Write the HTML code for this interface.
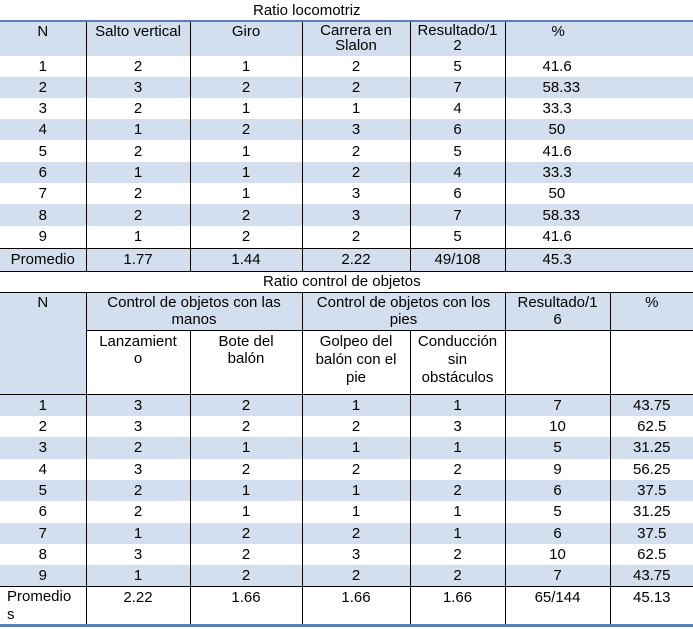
<!DOCTYPE html>
<html><head><meta charset="utf-8"><style>
body{margin:0;width:693px;height:629px;overflow:hidden;background:#fff;font-family:"Liberation Sans",Arial,sans-serif;font-size:15px;color:#000}
table{border-collapse:collapse;table-layout:fixed;position:absolute;left:0}
td{padding:0 3px;text-align:center;vertical-align:middle;line-height:17px;overflow:hidden}
.b{background:#d3dfee}
.vr{border-right:1px solid #000}
.t{vertical-align:top;padding-top:1px}
.title{position:absolute;font-size:15px;white-space:nowrap}
</style></head><body>
<div class="title" style="top:2px;left:253px">Ratio locomotriz</div>
<table style="top:20px;width:693px;border-top:2px solid #5b7fb5">
<colgroup><col style="width:86px"><col style="width:104px"><col style="width:112px"><col style="width:108px"><col style="width:95px"><col style="width:188px"></colgroup>
<tr class="b" style="height:35px"><td class="vr t">N</td><td class="vr t">Salto vertical</td><td class="vr t">Giro</td><td class="vr t" style="line-height:15px">Carrera en Slalon</td><td class="vr t" style="line-height:15px">Resultado/1<br>2</td><td class="t" style="text-align:left;padding-left:46px">%</td></tr>
<tr style="height:21px"><td class="vr">1</td><td class="vr">2</td><td class="vr">1</td><td class="vr">2</td><td class="vr">5</td><td style="text-align:left;padding-left:37px">41.6</td></tr>
<tr class="b" style="height:21px"><td class="vr">2</td><td class="vr">3</td><td class="vr">2</td><td class="vr">2</td><td class="vr">7</td><td style="text-align:left;padding-left:37px">58.33</td></tr>
<tr style="height:21px"><td class="vr">3</td><td class="vr">2</td><td class="vr">1</td><td class="vr">1</td><td class="vr">4</td><td style="text-align:left;padding-left:37px">33.3</td></tr>
<tr class="b" style="height:21px"><td class="vr">4</td><td class="vr">1</td><td class="vr">2</td><td class="vr">3</td><td class="vr">6</td><td style="text-align:left;padding-left:43px">50</td></tr>
<tr style="height:22px"><td class="vr">5</td><td class="vr">2</td><td class="vr">1</td><td class="vr">2</td><td class="vr">5</td><td style="text-align:left;padding-left:37px">41.6</td></tr>
<tr class="b" style="height:21px"><td class="vr">6</td><td class="vr">1</td><td class="vr">1</td><td class="vr">2</td><td class="vr">4</td><td style="text-align:left;padding-left:37px">33.3</td></tr>
<tr style="height:21px"><td class="vr">7</td><td class="vr">2</td><td class="vr">1</td><td class="vr">3</td><td class="vr">6</td><td style="text-align:left;padding-left:43px">50</td></tr>
<tr class="b" style="height:22px"><td class="vr">8</td><td class="vr">2</td><td class="vr">2</td><td class="vr">3</td><td class="vr">7</td><td style="text-align:left;padding-left:37px">58.33</td></tr>
<tr style="height:22px"><td class="vr">9</td><td class="vr">1</td><td class="vr">2</td><td class="vr">2</td><td class="vr">5</td><td style="text-align:left;padding-left:37px">41.6</td></tr>
<tr class="b" style="height:23px;border-top:1px solid #000;border-bottom:1px solid #000"><td class="vr">Promedio</td><td class="vr">1.77</td><td class="vr">1.44</td><td class="vr">2.22</td><td class="vr">49/108</td><td style="text-align:left;padding-left:37px">45.3</td></tr>
</table>
<div class="title" style="top:273px;left:263px">Ratio control de objetos</div>
<table style="top:292px;width:693px;border-top:1px solid #000;border-bottom:3px solid #5b7fb5">
<colgroup><col style="width:86px"><col style="width:104px"><col style="width:112px"><col style="width:108px"><col style="width:95px"><col style="width:105px"><col style="width:83px"></colgroup>
<tr style="height:38px"><td rowspan="2" class="vr t b">N</td><td colspan="2" class="vr t b" style="border-bottom:1px solid #000;padding:1px 12px 0">Control de objetos con las manos</td><td colspan="2" class="vr t b" style="border-bottom:1px solid #000;padding:1px 12px 0">Control de objetos con los pies</td><td class="vr t b" style="border-bottom:1px solid #000">Resultado/1<br>6</td><td class="t b" style="border-bottom:1px solid #000">%</td></tr>
<tr style="height:64px"><td class="vr t" style="padding-top:2px">Lanzamient<br>o</td><td class="vr t" style="padding-top:2px">Bote del<br>balón</td><td class="vr t" style="padding-top:2px;line-height:18px">Golpeo del<br>balón con el<br>pie</td><td class="vr t" style="padding-top:2px;line-height:18px">Conducción<br>sin<br>obstáculos</td><td class="vr"></td><td></td></tr>
<tr class="b" style="height:21px;border-top:1px solid #000"><td class="vr">1</td><td class="vr">3</td><td class="vr">2</td><td class="vr">1</td><td class="vr">1</td><td class="vr">7</td><td>43.75</td></tr>
<tr style="height:21px"><td class="vr">2</td><td class="vr">3</td><td class="vr">2</td><td class="vr">2</td><td class="vr">3</td><td class="vr">10</td><td>62.5</td></tr>
<tr class="b" style="height:22px"><td class="vr">3</td><td class="vr">2</td><td class="vr">1</td><td class="vr">1</td><td class="vr">1</td><td class="vr">5</td><td>31.25</td></tr>
<tr style="height:21px"><td class="vr">4</td><td class="vr">3</td><td class="vr">2</td><td class="vr">2</td><td class="vr">2</td><td class="vr">9</td><td>56.25</td></tr>
<tr class="b" style="height:21px"><td class="vr">5</td><td class="vr">2</td><td class="vr">1</td><td class="vr">1</td><td class="vr">2</td><td class="vr">6</td><td>37.5</td></tr>
<tr style="height:22px"><td class="vr">6</td><td class="vr">2</td><td class="vr">1</td><td class="vr">1</td><td class="vr">1</td><td class="vr">5</td><td>31.25</td></tr>
<tr class="b" style="height:21px"><td class="vr">7</td><td class="vr">1</td><td class="vr">2</td><td class="vr">2</td><td class="vr">1</td><td class="vr">6</td><td>37.5</td></tr>
<tr style="height:21px"><td class="vr">8</td><td class="vr">3</td><td class="vr">2</td><td class="vr">3</td><td class="vr">2</td><td class="vr">10</td><td>62.5</td></tr>
<tr class="b" style="height:22px"><td class="vr">9</td><td class="vr">1</td><td class="vr">2</td><td class="vr">2</td><td class="vr">2</td><td class="vr">7</td><td>43.75</td></tr>
<tr style="height:39px;border-top:1px solid #000"><td class="vr t" style="line-height:18px;text-align:left;padding-left:7px">Promedio<br>s</td><td class="vr t" style="padding-top:2px">2.22</td><td class="vr t" style="padding-top:2px">1.66</td><td class="vr t" style="padding-top:2px">1.66</td><td class="vr t" style="padding-top:2px">1.66</td><td class="vr t" style="padding-top:2px">65/144</td><td class="t" style="padding-top:2px">45.13</td></tr>
</table>
</body></html>
